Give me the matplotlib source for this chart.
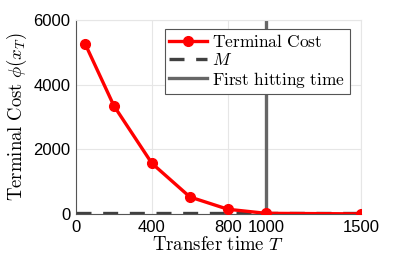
import matplotlib
matplotlib.use("Agg")
import matplotlib.pyplot as plt

# data
transfer_time = [50, 200, 400, 600, 800, 1000, 1500]
terminal_cost = [5250, 3350, 1570, 530, 150, 25, 8]
m_level = 50
hit_time = 1000
x_ticks = [0, 400, 800, 1000, 1500]
y_ticks = [0, 2000, 4000, 6000]

plt.rcParams["font.family"] = ["Liberation Sans", "DejaVu Sans"]
plt.rcParams["mathtext.fontset"] = "cm"

fig = plt.figure(figsize=(3.99, 2.66), dpi=100)
ax = fig.add_axes([0.19, 0.195, 0.715, 0.73])

ax.plot(transfer_time, terminal_cost, color="red", lw=2.4, marker="o",
        ms=7, label=r"$\mathrm{Terminal\ Cost}$", zorder=4)
ax.axhline(m_level, color="#404040", lw=2.4, ls=(0, (4.5, 3.5)),
           label=r"$M$", zorder=3)
ax.axvline(hit_time, color="#666666", lw=2.4,
           label=r"$\mathrm{First\ hitting\ time}$", zorder=2)

ax.set_xlim(0, 1500)
ax.set_ylim(0, 6000)
ax.set_xticks(x_ticks)
ax.set_yticks(y_ticks)
ax.tick_params(labelsize=12, length=0, pad=4)
ax.grid(True, color="#e6e6e6", lw=0.8)
ax.set_axisbelow(True)
for side in ["top", "right"]:
    ax.spines[side].set_color("#e6e6e6")
for side in ["left", "bottom"]:
    ax.spines[side].set_color("#555555")

ax.set_xlabel(r"$\mathrm{Transfer\ time}\ T$", fontsize=13.5, labelpad=1)
ax.set_ylabel(r"$\mathrm{Terminal\ Cost}\ \phi(x_T)$", fontsize=13.5, labelpad=3)

leg = ax.legend(loc="upper right", bbox_to_anchor=(0.96, 0.955), fontsize=12.5,
                handlelength=2.2, handletextpad=0.3, borderpad=0.25,
                labelspacing=0.1, fancybox=False, framealpha=1,
                edgecolor="#555555", borderaxespad=0)
leg.get_frame().set_linewidth(0.8)

fig.savefig("out.png", dpi=100)
